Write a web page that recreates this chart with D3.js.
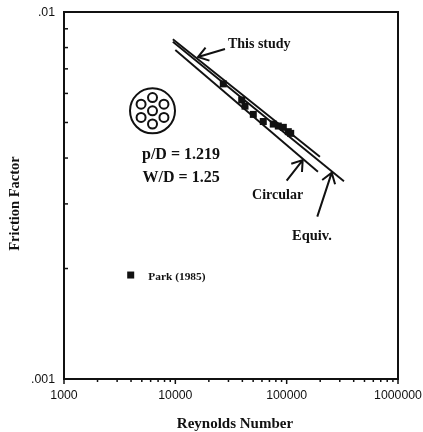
<!DOCTYPE html>
<html>
<head>
<meta charset="utf-8">
<script src="https://cdn.jsdelivr.net/npm/d3@7"></script>
<style>
  html, body { margin: 0; padding: 0; background: #fff; }
  svg { display: block; filter: blur(0.4px); }
  text { font-family: "Liberation Serif", serif; font-weight: bold; fill: #111; }
  .tick-label { font-family: "Liberation Sans", sans-serif; font-weight: normal; font-size: 12.3px; }
</style>
</head>
<body>
<svg width="423" height="432"></svg>
<script>
// Friction factor vs Reynolds number

var xDecades = [1000, 10000, 100000, 1000000];
var xDecadeLabels = ["1000", "10000", "100000", "1000000"];
var yDecades = [0.001, 0.01];
var yDecadeLabels = [".001", ".01"];

var thisStudyRe = [9500, 199000];
var thisStudyF = [0.00843, 0.00403];
var equivRe = [9500, 327000];
var equivF = [0.0083, 0.00346];
var circularRe = [10000, 191000];
var circularF = [0.00788, 0.00367];

// Park (1985) points
var parkRe = [26970, 39460, 42250, 50150, 61660, 75800, 84100, 93300, 103400, 108700];
var parkF = [0.00637, 0.00576, 0.00554, 0.00526, 0.00503, 0.00495, 0.00489, 0.00485, 0.00472, 0.00467];

var svg = d3.select("svg");
var margin = { top: 12, right: 25, bottom: 53, left: 64 };
var width = 423 - margin.left - margin.right;
var height = 432 - margin.top - margin.bottom;

var x = d3.scaleLog().domain([1000, 1000000]).range([0, width]);
var y = d3.scaleLog().domain([0.001, 0.01]).range([height, 0]);

var g = svg.append("g")
  .attr("transform", "translate(" + margin.left + "," + margin.top + ")");

// frame
g.append("rect")
  .attr("width", width)
  .attr("height", height)
  .attr("fill", "none")
  .attr("stroke", "#111")
  .attr("stroke-width", 2);

// minor ticks, every 1..9 of the decade
var xMinor = x.ticks().filter(function(d) { return xDecades.indexOf(d) < 0; });
var yMinor = y.ticks().filter(function(d) { return yDecades.indexOf(d) < 0; });

g.selectAll(".x-minor").data(xMinor).enter().append("line")
  .attr("x1", x).attr("x2", x)
  .attr("y1", height).attr("y2", height + 3)
  .attr("stroke", "#111").attr("stroke-width", 1.5);

g.selectAll(".x-major").data(xDecades).enter().append("line")
  .attr("x1", x).attr("x2", x)
  .attr("y1", height).attr("y2", height + 5)
  .attr("stroke", "#111").attr("stroke-width", 1.5);

g.selectAll(".y-minor").data(yMinor).enter().append("line")
  .attr("x1", 0).attr("x2", 4)
  .attr("y1", y).attr("y2", y)
  .attr("stroke", "#111").attr("stroke-width", 1.5);

g.selectAll(".x-label").data(xDecades).enter().append("text")
  .attr("class", "tick-label")
  .attr("x", x)
  .attr("y", height + 20)
  .attr("text-anchor", "middle")
  .text(function(d, i) { return xDecadeLabels[i]; });

g.selectAll(".y-label").data(yDecades).enter().append("text")
  .attr("class", "tick-label")
  .attr("x", -9)
  .attr("y", function(d) { return y(d) + 4; })
  .attr("text-anchor", "end")
  .text(function(d, i) { return yDecadeLabels[i]; });

// the three correlations
var line = d3.line()
  .x(function(d) { return x(d[0]); })
  .y(function(d) { return y(d[1]); });

[[thisStudyRe, thisStudyF], [equivRe, equivF], [circularRe, circularF]].forEach(function(s) {
  g.append("path")
    .attr("d", line(d3.zip(s[0], s[1])))
    .attr("fill", "none")
    .attr("stroke", "#111")
    .attr("stroke-width", 1.9);
});

// data points
g.selectAll(".park").data(d3.zip(parkRe, parkF)).enter().append("rect")
  .attr("x", function(d) { return x(d[0]) - 3.5; })
  .attr("y", function(d) { return y(d[1]) - 3.5; })
  .attr("width", 7).attr("height", 7)
  .attr("fill", "#111");

// legend
g.append("rect")
  .attr("x", x(3973) - 3.5).attr("y", y(0.00192) - 3.5)
  .attr("width", 7).attr("height", 7)
  .attr("fill", "#111");
g.append("text")
  .attr("x", x(5716)).attr("y", y(0.00192) + 5)
  .attr("font-size", 11.4)
  .text("Park (1985)");

// rod bundle sketch
var bundle = g.append("g")
  .attr("transform", "translate(" + x(6237) + "," + y(0.00538) + ")")
  .attr("fill", "none").attr("stroke", "#111").attr("stroke-width", 2);
bundle.append("circle").attr("r", 22.5);
bundle.append("circle").attr("r", 4.5);
d3.range(6).forEach(function(i) {
  var a = i * Math.PI / 3;
  bundle.append("circle")
    .attr("cx", 13.2 * Math.sin(a))
    .attr("cy", -13.2 * Math.cos(a))
    .attr("r", 4.5);
});

// annotations
function label(txt, re, f, size) {
  g.append("text")
    .attr("x", x(re)).attr("y", y(f))
    .attr("font-size", size)
    .text(txt);
}
label("p/D = 1.219", 5020, 0.003975, 16);
label("W/D = 1.25", 5080, 0.00344, 16);
label("This study", 29700, 0.00798, 14);
label("Circular", 48900, 0.00309, 14);
label("Equiv.", 111700, 0.00239, 14.5);

// arrows, tail to tip in Re / f
function arrow(a, b) {
  var x0 = x(a[0]), y0 = y(a[1]), x1 = x(b[0]), y1 = y(b[1]);
  var t = Math.atan2(y1 - y0, x1 - x0);
  var barb = 12, spread = 0.6;
  var path = d3.path();
  path.moveTo(x0, y0);
  path.lineTo(x1, y1);
  path.moveTo(x1 - barb * Math.cos(t - spread), y1 - barb * Math.sin(t - spread));
  path.lineTo(x1, y1);
  path.lineTo(x1 - barb * Math.cos(t + spread), y1 - barb * Math.sin(t + spread));
  g.append("path")
    .attr("d", path.toString())
    .attr("fill", "none")
    .attr("stroke", "#111")
    .attr("stroke-width", 2);
}
arrow([27930, 0.00793], [15980, 0.00754]);
arrow([100000, 0.00347], [139300, 0.00395]);
arrow([188400, 0.00277], [253900, 0.00365]);

// axis titles
svg.append("text")
  .attr("x", 235).attr("y", 428)
  .attr("text-anchor", "middle")
  .attr("font-size", 15)
  .text("Reynolds Number");
svg.append("text")
  .attr("transform", "translate(19,203.5) rotate(-90)")
  .attr("text-anchor", "middle")
  .attr("font-size", 14.5)
  .text("Friction Factor");
</script>
</body>
</html>
